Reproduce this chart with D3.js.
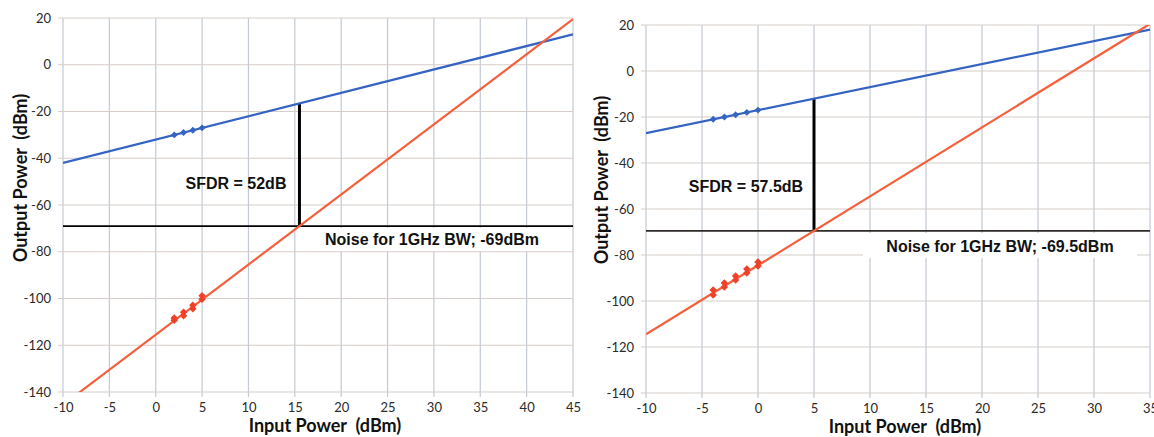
<!DOCTYPE html>
<html>
<head>
<meta charset="utf-8">
<script src="https://cdn.jsdelivr.net/npm/d3@7"></script>
<style>
  body { margin: 0; background: #fff; }
  svg { display: block; }
  .tick text { font-family: Lato, "Open Sans", sans-serif; font-size: 13px; fill: #2a2a2a; }
  .axis-title { font-family: Lato, sans-serif; font-size: 18px; font-weight: 700; fill: #111; white-space: pre; }
  .note { font-family: "Liberation Sans", Arial, sans-serif; font-size: 16px; font-weight: 700; fill: #111; }
</style>
</head>
<body>
<svg id="chart" width="1154" height="437"></svg>
<script>
// two SFDR panels: fundamental (slope 1) and IM3 (slope 3) vs input power

// ── left panel data ──
const xTicksA = [-10, -5, 0, 5, 10, 15, 20, 25, 30, 35, 40, 45];
const fundLineA = [[-10, -42], [45, 13]];
const im3LineA = [[-10, -145.5], [45, 19.5]];
const fundPtsA = [[2, -30], [3, -29], [4, -28], [5, -27]];
const im3PtsA = [[2, -109.3], [2, -108.3], [3, -107.4], [3, -105.9], [4, -104.4], [4, -102.9], [5, -100.3], [5, -98.8]];
const noiseA = -69;
const sfdrA = { x: 15.5, top: -16.5 };
const sfdrTextA = 'SFDR = 52dB';
const noiseTextA = 'Noise for 1GHz BW; -69dBm';

// ── right panel data ──
const xTicksB = [-10, -5, 0, 5, 10, 15, 20, 25, 30, 35];
const fundLineB = [[-10, -27], [35, 18]];
const im3LineB = [[-10, -114.5], [35, 20.5]];
const fundPtsB = [[-4, -21], [-3, -20], [-2, -19], [-1, -18], [0, -17]];
const im3PtsB = [[-4, -97.4], [-4, -95.2], [-3, -93.9], [-3, -92.2], [-2, -90.9], [-2, -89.1], [-1, -87.8], [-1, -86.1], [0, -84.8], [0, -83]];
const noiseB = -69.5;
const sfdrB = { x: 5, top: -12 };
const sfdrTextB = 'SFDR = 57.5dB';
const noiseTextB = 'Noise for 1GHz BW; -69.5dBm';

// shared
const yTicks = [20, 0, -20, -40, -60, -80, -100, -120, -140];
const xTitle = 'Input Power  (dBm)';
const yTitle = 'Output Power  (dBm)';

const svg = d3.select('#chart');

function drawPanel(id, cfg) {
    const x = d3.scaleLinear().domain(d3.extent(cfg.xTicks)).range([cfg.x0, cfg.x1]);
    const y = d3.scaleLinear().domain([-140, 20]).range([cfg.y1, cfg.y0]);
    const g = svg.append('g');

    svg.append('clipPath').attr('id', 'clip-' + id)
        .append('rect')
        .attr('x', cfg.x0).attr('y', cfg.y0)
        .attr('width', cfg.x1 - cfg.x0).attr('height', cfg.y1 - cfg.y0);

    // grid (with little tick stubs outside the plot)
    g.selectAll('.vgrid').data(cfg.xTicks).join('line')
        .attr('x1', d => x(d)).attr('x2', d => x(d))
        .attr('y1', cfg.y0).attr('y2', cfg.y1 + 5)
        .attr('stroke', '#c3cad3').attr('stroke-width', 1.2);
    g.selectAll('.hgrid').data(yTicks).join('line')
        .attr('x1', cfg.x0 - 5).attr('x2', cfg.x1)
        .attr('y1', d => y(d)).attr('y2', d => y(d))
        .attr('stroke', '#d6cdc9').attr('stroke-width', 1.2);

    // label box hides grid behind the noise text
    g.append('rect')
        .attr('x', cfg.noiseBox[0]).attr('y', cfg.noiseBox[1])
        .attr('width', cfg.noiseBox[2]).attr('height', cfg.noiseBox[3])
        .attr('fill', '#fff');

    // axes (labels only), plain hyphen minus like the original
    const fmt = d => String(d);
    const ax = g.append('g').attr('transform', `translate(0,${cfg.y1 + 8})`)
        .call(d3.axisBottom(x).tickValues(cfg.xTicks).tickSize(0).tickFormat(fmt));
    ax.select('.domain').remove();
    const ay = g.append('g').attr('transform', `translate(${cfg.x0 - 9},0)`)
        .call(d3.axisLeft(y).tickValues(yTicks).tickSize(0).tickFormat(fmt));
    ay.select('.domain').remove();

    // noise floor + SFDR bar
    g.append('line')
        .attr('x1', x(cfg.xTicks[0])).attr('x2', x(cfg.xTicks[cfg.xTicks.length - 1]))
        .attr('y1', y(cfg.noise)).attr('y2', y(cfg.noise))
        .attr('stroke', cfg.noiseColor).attr('stroke-width', 1.8);
    g.append('line')
        .attr('x1', x(cfg.sfdr.x)).attr('x2', x(cfg.sfdr.x))
        .attr('y1', y(cfg.sfdr.top)).attr('y2', y(cfg.noise))
        .attr('stroke', '#000').attr('stroke-width', 3);

    // lines
    const line = d3.line().x(d => x(d[0])).y(d => y(d[1]));
    const lines = g.append('g').attr('clip-path', `url(#clip-${id})`);
    lines.append('path').datum(cfg.fund).attr('d', line)
        .attr('stroke', '#3563c2').attr('stroke-width', 2.2).attr('fill', 'none');
    lines.append('path').datum(cfg.im3).attr('d', line)
        .attr('stroke', '#f4603c').attr('stroke-width', 2.2).attr('fill', 'none');

    // markers: rotated squares
    const sq = d3.symbol().type(d3.symbolSquare);
    g.selectAll('.fp').data(cfg.fundPts).join('path')
        .attr('transform', d => `translate(${x(d[0])},${y(d[1])}) rotate(45)`)
        .attr('d', sq.size(24)())
        .attr('fill', '#3563c2');
    g.selectAll('.ip').data(cfg.im3Pts).join('path')
        .attr('transform', d => `translate(${x(d[0])},${y(d[1])}) rotate(45)`)
        .attr('d', sq.size(28)())
        .attr('fill', '#f0402a');

    // notes
    g.append('text').attr('class', 'note')
        .attr('x', cfg.sfdrPos[0]).attr('y', cfg.sfdrPos[1])
        .attr('text-anchor', 'middle').attr('dy', '0.35em')
        .text(cfg.sfdrText);
    g.append('text').attr('class', 'note')
        .attr('x', cfg.noisePos[0]).attr('y', cfg.noisePos[1])
        .attr('text-anchor', 'middle').attr('dy', '0.35em')
        .text(cfg.noiseText);

    // titles
    g.append('text').attr('class', 'axis-title')
        .attr('x', cfg.xTitlePos[0]).attr('y', cfg.xTitlePos[1])
        .attr('text-anchor', 'middle').attr('dy', '0.35em')
        .text(xTitle);
    g.append('text').attr('class', 'axis-title')
        .attr('transform', `translate(${cfg.yTitlePos[0]},${cfg.yTitlePos[1]}) rotate(-90)`)
        .attr('text-anchor', 'middle').attr('dy', '0.35em')
        .text(yTitle);
}

drawPanel('a', {
    x0: 63, x1: 573, y0: 18, y1: 392,
    xTicks: xTicksA, fund: fundLineA, im3: im3LineA,
    fundPts: fundPtsA, im3Pts: im3PtsA,
    noise: noiseA, sfdr: sfdrA, noiseColor: '#000',
    sfdrText: sfdrTextA, noiseText: noiseTextA,
    sfdrPos: [236, 183], noisePos: [432, 239],
    noiseBox: [312, 228, 240, 23],
    xTitlePos: [325, 426], yTitlePos: [21, 178]
});

drawPanel('b', {
    x0: 646, x1: 1150, y0: 25, y1: 393,
    xTicks: xTicksB, fund: fundLineB, im3: im3LineB,
    fundPts: fundPtsB, im3Pts: im3PtsB,
    noise: noiseB, sfdr: sfdrB, noiseColor: '#2e2a28',
    sfdrText: sfdrTextB, noiseText: noiseTextB,
    sfdrPos: [746, 186], noisePos: [1000, 246],
    noiseBox: [863, 233, 274, 25],
    xTitlePos: [905, 427], yTitlePos: [602, 180]
});
</script>
</body>
</html>
